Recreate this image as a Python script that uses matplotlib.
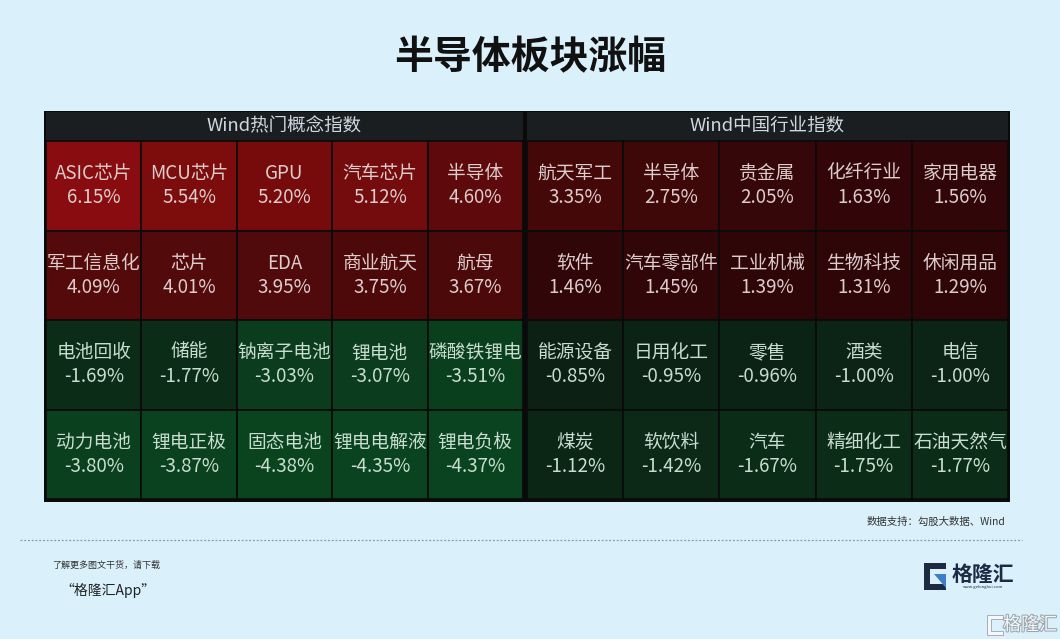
import matplotlib
matplotlib.use("Agg")
import matplotlib.pyplot as plt
from matplotlib.patches import Rectangle, Polygon
from matplotlib.colors import LinearSegmentedColormap
import matplotlib.patheffects as pe

plt.rcParams['font.family'] = ['Noto Sans CJK SC', 'DejaVu Sans']

# ---- data ----
title = "半导体板块涨幅"
panel_titles = ["Wind热门概念指数", "Wind中国行业指数"]

concept_names = ["ASIC芯片", "MCU芯片", "GPU", "汽车芯片", "半导体",
                 "军工信息化", "芯片", "EDA", "商业航天", "航母",
                 "电池回收", "储能", "钠离子电池", "锂电池", "磷酸铁锂电",
                 "动力电池", "锂电正极", "固态电池", "锂电电解液", "锂电负极"]
concept_values = [6.15, 5.54, 5.20, 5.12, 4.60,
                  4.09, 4.01, 3.95, 3.75, 3.67,
                  -1.69, -1.77, -3.03, -3.07, -3.51,
                  -3.80, -3.87, -4.38, -4.35, -4.37]

industry_names = ["航天军工", "半导体", "贵金属", "化纤行业", "家用电器",
                  "软件", "汽车零部件", "工业机械", "生物科技", "休闲用品",
                  "能源设备", "日用化工", "零售", "酒类", "电信",
                  "煤炭", "软饮料", "汽车", "精细化工", "石油天然气"]
industry_values = [3.35, 2.75, 2.05, 1.63, 1.56,
                   1.46, 1.45, 1.39, 1.31, 1.29,
                   -0.85, -0.95, -0.96, -1.00, -1.00,
                   -1.12, -1.42, -1.67, -1.75, -1.77]

source_text = "数据支持：勾股大数据、Wind"
footer_line1 = "了解更多图文干货，请下载"
footer_line2 = "“格隆汇App”"
brand = "格隆汇"

# ---- colour scale: green for losses, red for gains ----
vmin, vmax = -4.5, 6.2
stops = [(-4.5, "#09441f"), (-3.0, "#0b3c1d"), (-1.7, "#0b2c17"),
         (-1.0, "#0b2415"), (-0.8, "#0c1f14"), (0.0, "#160b0b"),
         (1.3, "#2e0608"), (2.0, "#360709"), (3.35, "#440809"),
         (4.0, "#520a0b"), (4.6, "#5e0a0c"), (5.2, "#760b0c"),
         (6.2, "#8a0d10")]
cmap = LinearSegmentedColormap.from_list(
    "gain_loss", [((v - vmin) / (vmax - vmin), c) for v, c in stops])

def cell_color(v):
    return cmap((v - vmin) / (vmax - vmin))

# ---- figure ----
W, H = 1060, 639
bg = "#daf1fc"
fig = plt.figure(figsize=(W / 100, H / 100), dpi=100, facecolor=bg)
ax = fig.add_axes([0, 0, 1, 1])
ax.set_xlim(0, W)
ax.set_ylim(H, 0)
ax.axis("off")
ax.set_facecolor(bg)

ax.text(530, 58, title, ha="center", va="center", fontsize=28,
        fontweight="bold", color="#111111")

# table geometry
table_left, table_right = 44, 1010
table_top, table_bottom = 111, 502
header_h = 29
row_h = 89.5
n_cols, n_rows = 5, 4
panel_x = [(46, 523), (527, 1008)]

ax.add_patch(Rectangle((table_left, table_top), table_right - table_left,
                       table_bottom - table_top, facecolor="#0a0a0a",
                       edgecolor="none", zorder=1))

panels = [(concept_names, concept_values), (industry_names, industry_values)]
for p, (names, values) in enumerate(panels):
    x0, x1 = panel_x[p]
    pw = x1 - x0
    cell_w = pw / n_cols
    ax.add_patch(Rectangle((x0, table_top + 1), pw, header_h,
                           facecolor="#1b1e21", edgecolor="none", zorder=2))
    ax.text(x0 + pw / 2, table_top + 1 + header_h / 2, panel_titles[p],
            ha="center", va="center", fontsize=13.3, color="#cfd8df", zorder=3)
    y_start = table_top + 1 + header_h
    for i, (name, val) in enumerate(zip(names, values)):
        r, c = divmod(i, n_cols)
        x = x0 + c * cell_w
        y = y_start + r * row_h
        ax.add_patch(Rectangle((x, y), cell_w, row_h,
                               facecolor=cell_color(val),
                               edgecolor="#0a0a0a", linewidth=1.2, zorder=2))
        tc = "#dccccc" if val >= 0 else "#c8ddcf"
        cx, cy = x + cell_w / 2, y + row_h / 2
        ax.text(cx, cy - 12, name, ha="center", va="center",
                fontsize=13.5, color=tc, zorder=3)
        ax.text(cx, cy + 12, f"{val:.2f}%", ha="center", va="center",
                fontsize=13.5, color=tc, zorder=3)

# source note and separator
ax.text(1005, 522, source_text, ha="right", va="center", fontsize=7.5,
        color="#333333")
ax.plot([20, 1022], [540, 540], color="#8a9aa4", linewidth=0.9,
        linestyle=(0, (1.5, 1.5)))

# footer
ax.text(52, 565, footer_line1, ha="left", va="center", fontsize=6.5,
        color="#333333", style="italic")
ax.text(60, 590, footer_line2, ha="left", va="center", fontsize=10,
        color="#222222", style="italic")

# brand logo
navy = "#1d2a44"
ax.add_patch(Polygon([(924, 563), (946, 563), (946, 569), (930, 569),
                      (930, 584), (946, 584), (946, 590), (924, 590)],
                     closed=True, facecolor=navy, edgecolor="none"))
ax.add_patch(Polygon([(934, 574), (946, 574), (946, 588)],
                     closed=True, facecolor="#3d7fc7", edgecolor="none"))
ax.text(983, 574, brand, ha="center", va="center", fontsize=15,
        fontweight="bold", color=navy)
ax.text(983, 587, "www.gelonghui.com", ha="center", va="center",
        fontsize=3, color=navy)

# corner watermark
ax.add_patch(Polygon([(987, 615), (1003, 615), (1003, 619), (991, 619),
                      (991, 631), (1003, 631), (1003, 635), (987, 635)],
                     closed=True, facecolor="#f4f8fa", edgecolor="#9aa5ab",
                     linewidth=0.6))
ax.text(1030, 625, brand, ha="center", va="center", fontsize=13,
        color="#f4f8fa",
        path_effects=[pe.withStroke(linewidth=1.5, foreground="#9aa5ab")])

fig.savefig("out.png", dpi=100, facecolor=bg)
